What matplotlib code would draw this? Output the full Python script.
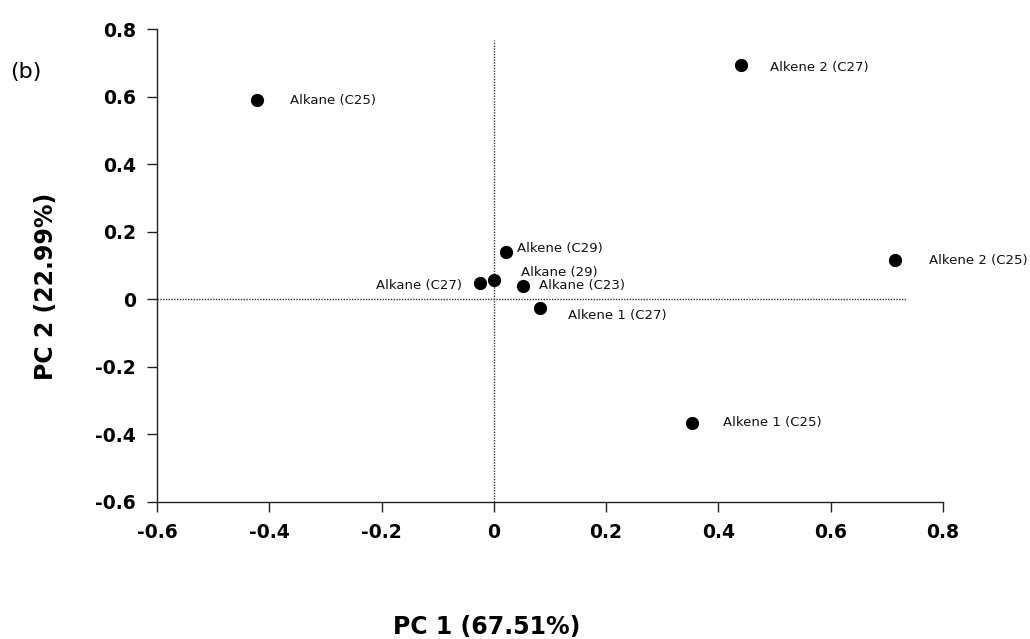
import matplotlib
matplotlib.use("Agg")
import matplotlib.pyplot as plt

# --- data ---
labels = ["Alkane (C25)", "Alkene 2 (C27)", "Alkene 2 (C25)", "Alkene 1 (C25)",
          "Alkene (C29)", "Alkane (29)", "Alkane (C27)", "Alkane (C23)", "Alkene 1 (C27)"]
pc1 = [-0.422, 0.440, 0.714, 0.353, 0.021, 0.000, -0.025, 0.052, 0.082]
pc2 = [0.590, 0.693, 0.116, -0.366, 0.140, 0.057, 0.048, 0.039, -0.026]

x_ticks = [-0.6, -0.4, -0.2, 0, 0.2, 0.4, 0.6, 0.8]
y_ticks = [-0.6, -0.4, -0.2, 0, 0.2, 0.4, 0.6, 0.8]
x_ticklabels = ["-0.6", "-0.4", "-0.2", "0", "0.2", "0.4", "0.6", "0.8"]
y_ticklabels = ["-0.6", "-0.4", "-0.2", "0", "0.2", "0.4", "0.6", "0.8"]

# label placement (pixel offsets from the point, horizontal alignment)
label_offsets = {
    "Alkane (C25)": (33, -1, "left"),
    "Alkene 2 (C27)": (29, -2, "left"),
    "Alkene 2 (C25)": (34, 0, "left"),
    "Alkene 1 (C25)": (31, 0, "left"),
    "Alkene (C29)": (11, 3, "left"),
    "Alkane (29)": (27, 8, "left"),
    "Alkane (C27)": (-18, -2, "right"),
    "Alkane (C23)": (16, 1, "left"),
    "Alkene 1 (C27)": (28, -7, "left"),
}

fig = plt.figure(figsize=(10.30, 6.39), dpi=100)
ax = fig.add_axes([0.1524, 0.2144, 0.7631, 0.7402])

# reference lines through the origin
ax.plot([-0.6, 0.736], [0, 0], color="#333333", lw=1.0, ls=(0, (1, 1)), zorder=1)
ax.plot([0, 0], [-0.6, 0.767], color="#333333", lw=1.0, ls=(0, (1, 1)), zorder=1)

ax.plot(pc1, pc2, "o", color="black", ms=8.5, zorder=3)

for name, x, y in zip(labels, pc1, pc2):
    dx, dy, ha = label_offsets[name]
    ax.annotate(name, (x, y), xytext=(dx, dy), textcoords="offset pixels",
                ha=ha, va="center", fontsize=9.5, color="#111111")

ax.set_xlim(-0.6, 0.8)
ax.set_ylim(-0.6, 0.8)
ax.set_xticks(x_ticks)
ax.set_xticklabels(x_ticklabels)
ax.set_yticks(y_ticks)
ax.set_yticklabels(y_ticklabels)

for side in ["top", "right"]:
    ax.spines[side].set_visible(False)
for side in ["left", "bottom"]:
    ax.spines[side].set_linewidth(1.0)
    ax.spines[side].set_color("#222222")

ax.tick_params(axis="both", direction="out", length=7, width=1.0, color="#222222",
               labelsize=13.5, pad=8)
for t in ax.get_xticklabels() + ax.get_yticklabels():
    t.set_fontweight("bold")

ax.set_xlabel("PC 1 (67.51%)", fontsize=17, fontweight="bold", va="center", ha="center")
ax.xaxis.set_label_coords(0.42, -0.265)
ax.set_ylabel("PC 2 (22.99%)", fontsize=17, fontweight="bold", va="center", ha="center")
ax.yaxis.set_label_coords(-0.141, 0.455)

fig.text(0.010, 0.887, "(b)", fontsize=16, va="center", ha="left")

fig.savefig("out.png", dpi=100)
